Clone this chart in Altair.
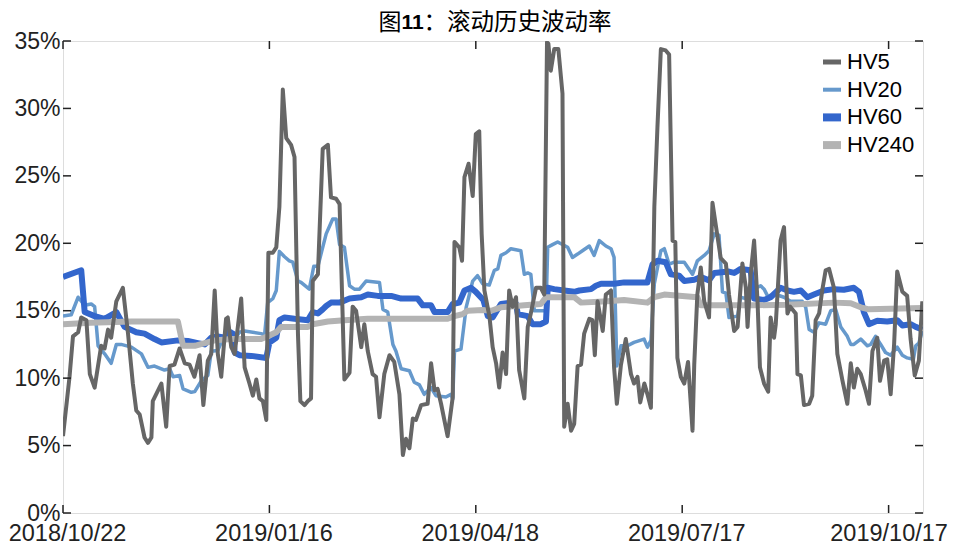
import altair as alt
import pandas as pd

# ---- data (x = trading-day index, y = volatility in %) ----
HV5_X = [0.0, 1.9, 2.9, 4.4, 5.3, 6.8, 7.8, 9.2, 11.1, 12.1, 13.1, 14.0, 15.5, 17.4, 18.9, 20.3, 21.3, 22.3, 23.7, 24.7,
         25.7, 26.1, 28.6, 30.0, 31.0, 32.4, 33.9, 35.4, 36.8, 38.2, 39.7, 40.8, 42.1, 43.1, 44.1, 45.0, 46.0, 47.4, 47.9, 48.9,
         49.9, 51.8, 52.8, 54.2, 55.2, 56.2, 57.1, 58.1, 59.1, 59.7, 61.0, 62.0, 62.9, 63.9, 64.9, 66.3, 67.3, 68.3, 69.0, 70.2,
         71.2, 72.1, 72.6, 74.1, 75.5, 77.0, 77.9, 79.4, 80.4, 81.8, 83.3, 84.2, 85.2, 86.7, 87.6, 88.6, 90.0, 91.0, 92.0, 93.4,
         94.9, 96.3, 97.8, 98.8, 99.7, 100.7, 101.7, 102.6, 104.1, 106.0, 107.0, 108.0, 108.9, 109.9, 111.8, 113.3, 113.8, 115.2, 116.0, 116.7,
         117.9, 119.1, 120.0, 121.0, 121.7, 122.5, 124.0, 124.9, 125.9, 126.8, 127.8, 128.8, 129.7, 130.7, 131.7, 132.6, 134.1, 135.1, 136.0, 137.5,
         138.9, 139.9, 140.7, 141.1, 141.8, 142.8, 144.0, 145.2, 145.7, 146.7, 147.7, 148.6, 149.6, 150.6, 151.5, 153.0, 153.9, 154.6, 155.4, 156.9,
         157.8, 159.3, 160.2, 161.0, 162.2, 163.6, 165.1, 166.0, 167.0, 167.8, 169.0, 169.9, 170.9, 171.9, 172.8, 173.8, 175.2, 176.2, 177.2, 178.0,
         178.6, 179.6, 180.6, 181.7, 183.0, 183.5, 184.4, 185.4, 186.4, 187.8, 188.8, 190.2, 191.2, 192.7, 193.6, 195.1, 196.1, 197.5, 198.5, 199.0,
         199.9, 200.9, 201.9, 202.6, 203.8, 205.0, 205.7, 206.7, 207.2, 208.6, 209.6, 210.6, 211.4, 213.0, 213.5, 214.5, 215.4, 216.9, 217.8, 218.8,
         219.8, 220.7, 221.7, 222.7, 224.1, 225.1, 226.6, 228.0, 229.0, 229.9, 230.9, 231.9, 233.3, 234.3, 235.3, 236.7, 237.5, 238.7, 239.6, 240.6,
         241.6, 242.5, 244.0, 245.4, 246.4, 247.6, 248.8, 249.8]
HV5_Y = [5.7, 10.1, 13.1, 13.4, 14.5, 14.3, 10.3, 9.3, 12.4, 12.2, 13.6, 13.0, 15.7, 16.7, 13.3, 9.6, 7.6, 7.3, 5.6, 5.2,
         5.6, 8.3, 9.6, 6.4, 10.9, 11.0, 12.2, 11.1, 11.0, 10.1, 11.7, 8.0, 11.3, 11.8, 16.5, 11.8, 10.1, 14.4, 14.5, 12.3,
         11.8, 15.9, 10.8, 9.6, 8.7, 9.9, 8.5, 8.3, 6.9, 19.3, 19.3, 19.7, 22.7, 31.4, 27.8, 27.3, 26.4, 13.3, 8.3, 8.0,
         8.3, 8.5, 17.2, 17.7, 27.0, 27.3, 23.4, 23.3, 22.9, 9.9, 10.4, 15.3, 15.0, 12.3, 14.0, 12.0, 10.3, 10.1, 7.1, 10.3,
         11.7, 11.2, 8.8, 4.3, 5.5, 4.8, 7.0, 6.9, 8.0, 8.1, 11.1, 9.1, 9.2, 8.1, 5.7, 8.6, 20.1, 19.7, 18.7, 24.9,
         25.9, 23.5, 28.1, 28.3, 20.7, 16.5, 14.5, 12.3, 11.1, 9.3, 11.9, 10.3, 16.5, 15.3, 16.0, 10.6, 8.5, 13.8, 14.8, 16.7,
         16.7, 16.2, 34.9, 34.8, 32.8, 34.4, 34.4, 31.1, 6.4, 8.1, 6.1, 6.6, 10.9, 11.0, 13.3, 14.4, 14.3, 11.7, 15.7, 13.5,
         16.2, 16.5, 10.8, 8.1, 11.0, 12.9, 10.3, 9.6, 10.1, 8.2, 9.6, 8.8, 7.8, 22.7, 28.6, 34.4, 34.3, 34.0, 20.2, 20.1,
         11.5, 10.1, 9.6, 11.2, 6.1, 11.0, 16.2, 18.2, 15.7, 14.5, 23.0, 20.6, 18.9, 18.5, 16.2, 13.5, 13.8, 18.5, 16.7, 13.8,
         17.7, 20.2, 15.7, 10.8, 9.6, 9.0, 14.5, 13.0, 14.0, 20.2, 21.2, 14.8, 15.3, 14.8, 10.3, 10.2, 8.0, 8.1, 8.7, 14.3,
         14.8, 16.5, 18.0, 18.1, 16.7, 11.8, 9.8, 8.1, 11.1, 9.3, 10.7, 10.3, 9.1, 8.1, 12.0, 13.0, 9.8, 11.3, 11.4, 8.8,
         12.5, 17.9, 16.4, 16.1, 12.9, 10.2, 11.3, 15.7]

HV20_X = [0.0, 2.4, 4.4, 6.3, 8.2, 9.2, 10.2, 12.1, 14.0, 15.5, 16.9, 19.9, 22.8, 24.7, 26.6, 29.5, 31.0, 32.0, 33.9, 34.9,
          37.3, 38.3, 40.2, 42.1, 43.1, 45.0, 47.4, 48.9, 49.9, 51.3, 52.8, 57.6, 58.6, 59.5, 61.0, 62.0, 62.9, 64.4, 65.8, 66.8,
          68.3, 69.2, 71.6, 72.9, 74.1, 75.0, 76.5, 78.4, 79.4, 80.4, 81.8, 83.3, 84.7, 86.2, 88.1, 92.0, 93.0, 94.4, 95.9, 96.8,
          98.3, 100.7, 102.1, 103.6, 105.0, 107.0, 108.4, 111.3, 112.8, 113.3, 113.8, 115.7, 117.2, 119.1, 120.5, 122.0, 123.9, 125.4, 126.4, 127.3,
          128.8, 130.2, 133.1, 134.1, 135.1, 136.0, 137.0, 140.4, 140.9, 142.3, 143.8, 146.7, 148.1, 149.6, 151.0, 153.0, 154.4, 155.9, 157.8, 159.3,
          160.2, 161.0, 162.2, 164.1, 166.0, 168.9, 169.9, 170.9, 171.9, 173.8, 174.8, 176.2, 177.7, 180.6, 183.0, 184.4, 186.4, 187.8, 189.3, 190.7,
          191.7, 192.7, 193.6, 196.1, 197.0, 198.5, 199.4, 201.4, 202.8, 203.8, 204.8, 207.2, 209.6, 211.5, 214.9, 215.9, 216.9, 218.3, 219.8, 221.7,
          223.2, 224.6, 226.1, 228.0, 229.0, 229.9, 231.9, 233.8, 234.8, 236.2, 237.7, 239.1, 240.6, 242.5, 244.0, 245.4, 247.2, 247.9, 248.8, 249.8]
HV20_Y = [14.6, 14.7, 16.0, 15.4, 15.5, 15.3, 12.4, 11.8, 11.1, 12.5, 12.5, 12.3, 11.8, 10.8, 10.9, 10.6, 10.7, 10.1, 10.2, 9.2,
          8.95, 9.0, 9.8, 10.2, 12.0, 12.05, 13.5, 13.5, 12.9, 13.4, 13.5, 13.3, 13.2, 15.6, 15.9, 16.5, 19.4, 19.0, 18.7, 18.6,
          17.2, 17.1, 16.6, 18.3, 18.3, 19.2, 20.7, 21.8, 21.8, 19.9, 19.7, 16.85, 16.6, 16.6, 17.2, 17.1, 15.1, 14.9, 12.5, 12.0,
          10.7, 10.55, 9.7, 9.5, 8.8, 9.3, 8.7, 8.6, 8.8, 8.45, 12.0, 12.15, 15.25, 17.2, 17.6, 17.0, 16.9, 18.0, 18.1, 19.1,
          19.3, 19.6, 19.45, 17.7, 17.8, 17.7, 15.0, 15.0, 19.7, 19.9, 20.1, 19.7, 18.95, 19.2, 19.45, 19.8, 19.1, 20.2, 19.8, 19.6,
          18.95, 10.9, 12.4, 12.4, 12.65, 12.9, 12.3, 12.8, 17.0, 19.45, 19.6, 18.45, 18.6, 18.6, 17.7, 18.7, 19.1, 19.45, 20.7, 20.6,
          16.4, 16.3, 14.5, 14.6, 16.0, 15.9, 16.7, 16.7, 16.85, 16.6, 16.1, 16.2, 16.0, 15.7, 15.7, 15.25, 13.6, 13.4, 14.1, 14.0,
          15.0, 15.1, 13.8, 13.1, 12.5, 12.5, 12.9, 12.4, 12.5, 13.1, 12.5, 11.9, 11.7, 12.3, 11.7, 11.5, 11.4, 12.4, 12.6, 13.5]

HV60_X = [0.0, 5.3, 6.3, 9.2, 12.1, 15.5, 17.9, 21.3, 23.7, 26.6, 28.6, 33.4, 36.3, 39.2, 41.2, 43.1, 45.0, 47.0, 48.4, 49.4,
          49.9, 51.3, 54.7, 59.1, 60.0, 62.0, 62.9, 64.4, 67.3, 71.2, 72.6, 74.1, 75.5, 76.5, 77.9, 80.4, 83.3, 86.7, 88.6, 91.5,
          95.4, 98.3, 103.1, 104.6, 107.0, 108.0, 111.8, 113.3, 115.2, 116.7, 118.6, 120.0, 122.2, 123.5, 124.9, 127.3, 130.2, 131.7, 132.2, 135.1,
          136.5, 138.9, 140.4, 140.9, 142.8, 145.7, 148.6, 150.1, 153.5, 154.9, 156.4, 160.2, 163.1, 169.9, 171.4, 172.8, 175.2, 176.7, 179.1, 180.6,
          183.5, 185.4, 187.8, 189.3, 193.6, 195.1, 197.0, 199.9, 200.9, 203.8, 205.7, 208.6, 210.6, 212.5, 214.5, 216.4, 218.3, 221.2, 224.1, 227.0,
          229.9, 231.4, 232.8, 234.3, 236.7, 239.6, 242.5, 244.0, 246.4, 247.9, 249.8]
HV60_Y = [17.5, 18.0, 14.9, 14.6, 14.4, 14.9, 13.8, 13.4, 13.3, 12.9, 12.65, 12.8, 12.75, 12.6, 12.5, 13.0, 13.1, 13.0, 13.4, 13.3,
          11.9, 11.7, 11.65, 11.5, 12.65, 13.0, 14.3, 14.5, 14.4, 14.3, 14.9, 14.8, 15.1, 15.35, 15.6, 15.6, 15.9, 16.0, 16.2, 16.1,
          16.1, 15.9, 15.9, 15.4, 15.4, 14.9, 14.9, 15.5, 15.6, 16.5, 16.7, 16.4, 15.8, 14.6, 14.5, 15.5, 15.6, 15.5, 14.75, 14.6,
          14.0, 14.0, 14.2, 16.7, 16.6, 16.5, 16.4, 16.5, 16.6, 16.85, 17.0, 17.0, 17.1, 17.1, 18.45, 18.7, 18.6, 17.7, 17.6, 17.2,
          17.3, 17.5, 17.25, 17.8, 17.9, 17.8, 18.1, 18.0, 15.9, 15.8, 16.0, 16.7, 16.5, 16.4, 16.5, 16.0, 16.2, 16.5, 16.6, 16.55,
          16.7, 16.4, 14.9, 14.0, 14.26, 14.2, 14.3, 13.9, 14.0, 13.8, 13.6]

HV240_X = [0.0, 8.0, 20.0, 33.4, 34.9, 38.3, 44.1, 48.9, 57.6, 59.5, 62.0, 63.4, 71.2, 72.6, 77.0, 81.8, 88.6, 98.3, 111.8, 113.8,
           116.2, 117.6, 122.0, 124.5, 127.3, 134.1, 138.9, 140.4, 148.6, 150.6, 158.3, 163.1, 169.9, 171.9, 174.8, 184.4, 185.4, 194.0, 200.9, 210.6,
           224.1, 229.0, 231.9, 234.3, 249.8]
HV240_Y = [14.0, 14.1, 14.2, 14.2, 12.4, 12.4, 12.8, 12.9, 12.9, 13.1, 13.4, 13.8, 13.8, 14.0, 14.2, 14.3, 14.4, 14.4, 14.4, 14.6,
           14.75, 15.0, 15.05, 15.0, 15.25, 15.4, 15.5, 16.0, 16.0, 15.6, 15.7, 15.8, 15.6, 16.0, 16.2, 16.0, 15.4, 15.4, 15.4, 15.45,
           15.6, 15.55, 15.25, 15.1, 15.2]

SERIES = ["HV5", "HV20", "HV60", "HV240"]
COLORS = ["#666666", "#6699CC", "#3366CC", "#B3B3B3"]
WIDTHS = [4, 3.5, 6, 6]
LEGEND_WIDTHS = [5, 4, 8, 8]
DRAW_ORDER = ["HV20", "HV60", "HV240", "HV5"]

X_TICKS = [0, 60, 120, 180, 240]
X_LABELS = ["2018/10/22", "2019/01/16", "2019/04/18", "2019/07/17", "2019/10/17"]
Y_TICKS = [0, 5, 10, 15, 20, 25, 30, 35]
TITLE_PARTS = ["图", "11", "：滚动历史波动率"]

rows = []
for name, xs, ys in [("HV5", HV5_X, HV5_Y), ("HV20", HV20_X, HV20_Y),
                     ("HV60", HV60_X, HV60_Y), ("HV240", HV240_X, HV240_Y)]:
    for xv, yv in zip(xs, ys):
        rows.append({"series": name, "t": xv, "v": yv})
df = pd.DataFrame(rows)

W, H = 860, 472
FONT = "Liberation Sans"
INK = "#222222"

xscale = alt.Scale(domain=[0, 250], nice=False, zero=False)
yscale = alt.Scale(domain=[0, 35], nice=False)

label_expr = " : ".join(f"datum.value == {v} ? '{l}'" for v, l in zip(X_TICKS, X_LABELS)) + " : ''"
xaxis = alt.Axis(values=X_TICKS, labelExpr=label_expr, ticks=False, domain=False, grid=False, title=None,
                 labelFontSize=23.5, labelFont=FONT, labelColor=INK, labelPadding=8,
                 labelOffset={"condition": {"test": f"datum.value == {X_TICKS[-1]}", "value": 0}, "value": 4},
                 labelFlush=False, labelOverlap=False)
yaxis = alt.Axis(values=Y_TICKS, labelExpr="datum.value + '%'", ticks=False, domain=False, grid=False,
                 title=None, labelFontSize=23, labelFont=FONT, labelColor=INK, labelPadding=3)

color = alt.Color("series:N", scale=alt.Scale(domain=SERIES, range=COLORS), legend=None)

layers = []
for s in DRAW_ORDER:
    layers.append(
        alt.Chart(df).transform_filter(alt.datum.series == s)
        .mark_line(strokeJoin="round", clip=True, strokeWidth=WIDTHS[SERIES.index(s)])
        .encode(x=alt.X("t:Q", scale=xscale, axis=xaxis),
                y=alt.Y("v:Q", scale=yscale, axis=yaxis),
                color=color)
    )

# legend drawn as rule + text marks, one row per series (positions in pixels)
leg_df = pd.DataFrame({"series": SERIES, "lw": LEGEND_WIDTHS, "row": list(range(len(SERIES)))})
LEG_X, LEG_Y, ROW_H = 760, 21, 27.7
leg_sym = (
    alt.Chart(leg_df).mark_rule(strokeCap="butt")
    .transform_calculate(py=f"{LEG_Y} + datum.row * {ROW_H}")
    .encode(x=alt.value(LEG_X), x2=alt.value(LEG_X + 18),
            y=alt.Y("py:Q", scale=None), color=color,
            strokeWidth=alt.StrokeWidth("lw:Q", scale=None, legend=None))
)
leg_txt = (
    alt.Chart(leg_df).mark_text(align="left", baseline="middle", font=FONT, fontSize=22, color="black")
    .transform_calculate(py=f"{LEG_Y} + datum.row * {ROW_H}")
    .encode(x=alt.value(LEG_X + 24), y=alt.Y("py:Q", scale=None), text="series:N")
)

ydf = pd.DataFrame({"v": Y_TICKS})
xdf = pd.DataFrame({"t": X_TICKS})
tick_style = dict(color=INK, strokeWidth=1.5)
layers += [
    alt.Chart(ydf).mark_rule(**tick_style).encode(y=alt.Y("v:Q", scale=yscale, axis=yaxis),
                                                  x=alt.value(0), x2=alt.value(8)),
    alt.Chart(ydf).mark_rule(**tick_style).encode(y=alt.Y("v:Q", scale=yscale, axis=yaxis),
                                                  x=alt.value(W), x2=alt.value(W - 8)),
    alt.Chart(xdf).mark_rule(**tick_style).encode(x=alt.X("t:Q", scale=xscale, axis=xaxis),
                                                  y=alt.value(H), y2=alt.value(H - 8)),
    alt.Chart(xdf).mark_rule(**tick_style).encode(x=alt.X("t:Q", scale=xscale, axis=xaxis),
                                                  y=alt.value(0), y2=alt.value(8)),
    leg_sym, leg_txt,
]

# title: "图" + bold "11" + "：滚动历史波动率", placed over the plot
title_specs = [  # (text, x in plot px, font, weight, size)
    (TITLE_PARTS[0], 315.5, "Noto Sans CJK SC", "normal", 23),
    (TITLE_PARTS[1], 338.5, FONT, "bold", 21),
    (TITLE_PARTS[2], 360.5, "Noto Sans CJK SC", "normal", 23.5),
]
one = alt.Data(values=[{"k": 0}])
for txt, xp, fnt, fw, fsz in title_specs:
    layers.append(
        alt.Chart(one).mark_text(align="left", baseline="middle", font=fnt, fontWeight=fw,
                                 fontSize=fsz, color="black")
        .encode(x=alt.value(xp), y=alt.value(-18), text=alt.value(txt))
    )

chart = (
    alt.layer(*layers)
    .properties(width=W, height=H, autosize=alt.AutoSizeParams(type="none"),
                padding={"left": 55, "top": 33, "right": 25, "bottom": 32})
    .configure_view(stroke=INK, strokeWidth=1.5)
    .configure(background="white")
)

chart.save("out.html", embed_options={"renderer": "svg", "actions": False})
